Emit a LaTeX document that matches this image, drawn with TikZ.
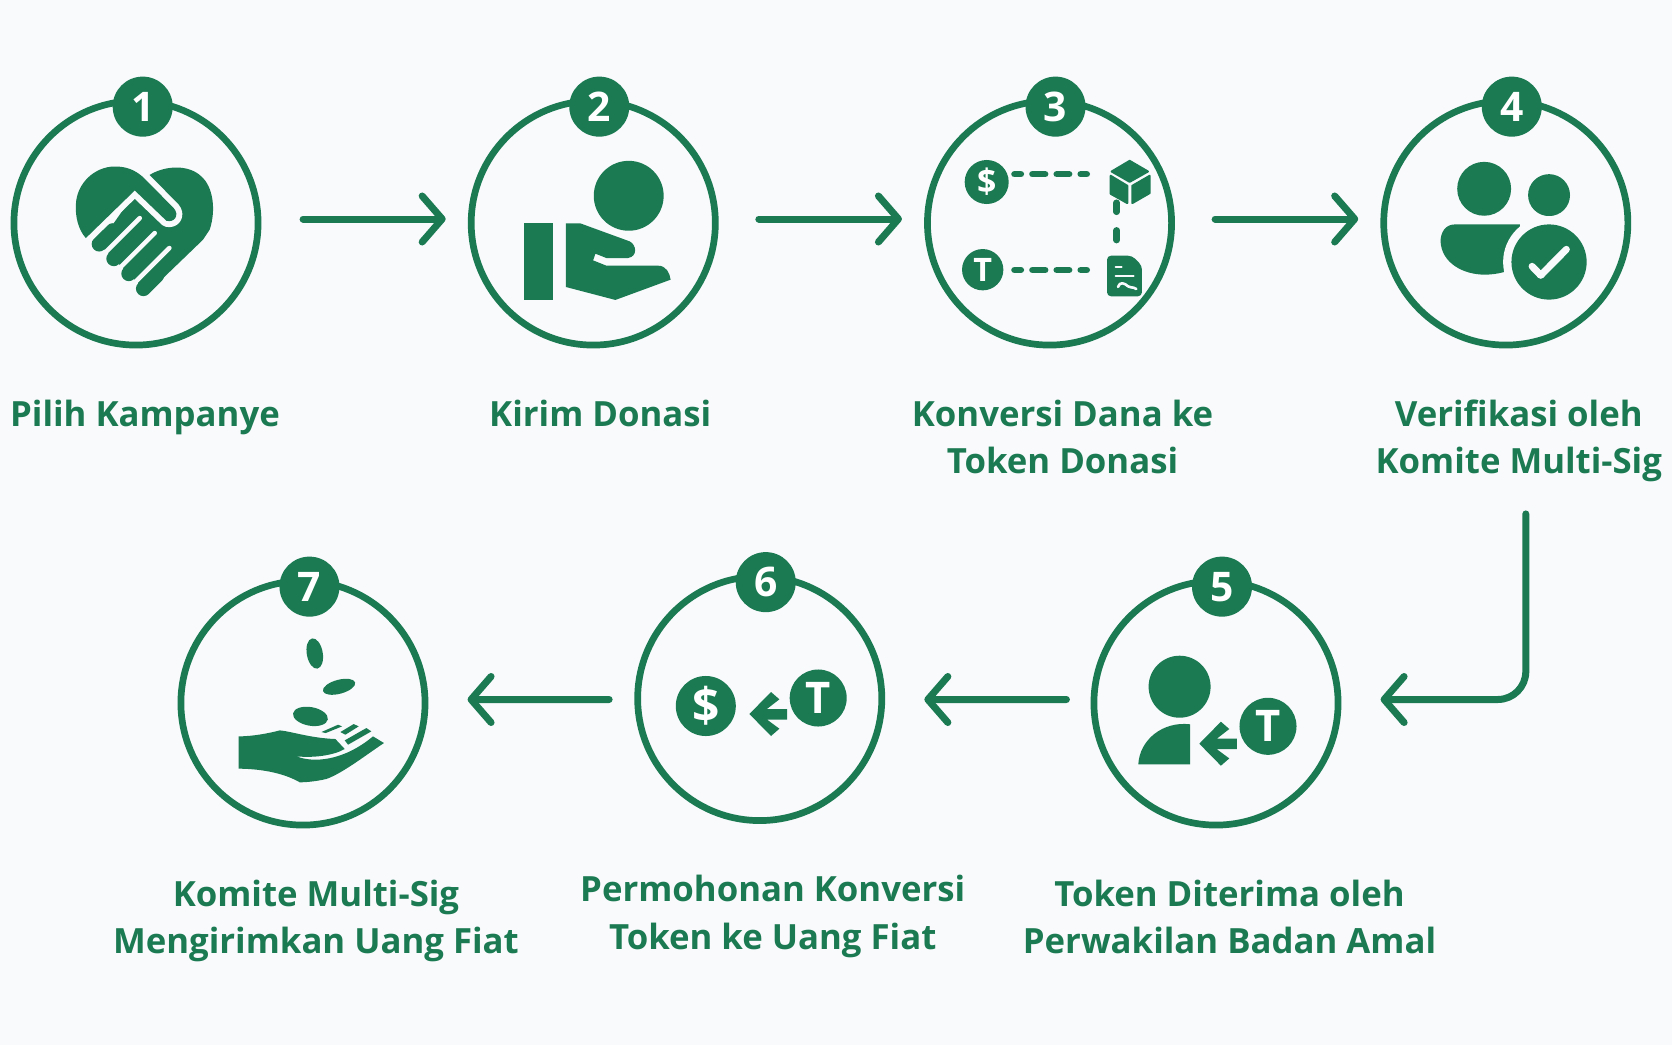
\documentclass[tikz,border=0pt]{standalone}
\usepackage{fontspec}
\setmainfont{Open Sans}
\usepackage{xcolor}
\usetikzlibrary{arrows.meta,positioning}
\definecolor{brandgreen}{RGB}{27,122,82}
\definecolor{paper}{RGB}{248,250,252}

\begin{document}
\begin{tikzpicture}[x=.01cm, y=-.01cm,
ring/.style={circle, draw=brandgreen, line width=.067cm, minimum size=2.44cm, inner sep=0pt, outer sep=0pt},
badge/.style={circle, fill=brandgreen, text=white, minimum size=.6cm, inner sep=0pt, font=\fontsize{11.6pt}{12pt}\bfseries},
coin/.style={circle, fill=brandgreen, text=white, inner sep=0pt},
steptext/.style={align=center, text=brandgreen, inner sep=0pt, font=\fontsize{9.88pt}{13.5pt}\selectfont\bfseries},
flow/.style={-{Straight Barb[length=.2cm,width=.46cm,round]}, draw=brandgreen, line width=.07cm, line cap=round, line join=round},
ink/.style={fill=brandgreen},
gap/.style={draw=paper, line cap=round, line join=round}
]
\fill[paper] (0,0) rectangle (1672,1045);

% rings, top row then bottom row
\node[ring] (s1) at (136,223) {};
\node[ring, right=2.13cm of s1] (s2) {};
\node[ring, right=2.12cm of s2] (s3) {};
\node[ring, right=2.12cm of s3] (s4) {};
\node[ring] (s5) at (1216,703) {};
\node[ring, left=2.12cm of s5, yshift=.045cm] (s6) {};
\node[ring, left=2.125cm of s6, yshift=-.045cm] (s7) {};

% numbers
\node[badge] (n1) at ([xshift=.067cm,yshift=-.057cm]s1.north) {1};
\node[badge] (n2) at ([xshift=.06cm,yshift=-.057cm]s2.north) {2};
\node[badge] (n3) at ([xshift=.06cm,yshift=-.057cm]s3.north) {3};
\node[badge] (n4) at ([xshift=.06cm,yshift=-.057cm]s4.north) {4};
\node[badge] (n5) at ([xshift=.06cm,yshift=-.057cm]s5.north) {5};
\node[badge] (n6) at ([xshift=.06cm,yshift=-.057cm]s6.north) {6};
\node[badge] (n7) at ([xshift=.065cm,yshift=-.057cm]s7.north) {7};

% captions
\node[steptext, below=.54cm of s1, xshift=.09cm] (c1) {Pilih Kampanye};
\node[steptext, below=.54cm of s2, xshift=.07cm] (c2) {Kirim Donasi};
\node[steptext, below=.54cm of s3, xshift=.13cm] (c3) {Konversi Dana ke\\Token Donasi};
\node[steptext, below=.54cm of s4, xshift=.13cm] (c4) {Verifikasi oleh\\Komite Multi-Sig};
\node[steptext, below=.54cm of s5, xshift=.135cm] (c5) {Token Diterima oleh\\Perwakilan Badan Amal};
\node[steptext, below=.54cm of s6, xshift=.13cm] (c6) {Permohonan Konversi\\Token ke Uang Fiat};
\node[steptext, below=.54cm of s7, xshift=.13cm] (c7) {Komite Multi-Sig\\Mengirimkan Uang Fiat};

% arrows
\draw[flow, shorten <=.45cm, shorten >=.255cm] ([yshift=.04cm]s1.east) -- ([yshift=.04cm]s2.west);
\draw[flow, shorten <=.435cm, shorten >=.255cm] ([yshift=.04cm]s2.east) -- ([yshift=.04cm]s3.west);
\draw[flow, shorten <=.435cm, shorten >=.255cm] ([yshift=.04cm]s3.east) -- ([yshift=.04cm]s4.west);
\draw[flow, rounded corners=.28cm, shorten <=.31cm, shorten >=.425cm] ([xshift=.07cm]c4.south) |- ([yshift=.035cm]s5.east);
\draw[flow, shorten <=.275cm, shorten >=.425cm] ([yshift=.035cm]s5.west) -- ([yshift=-.01cm]s6.east);
\draw[flow, shorten <=.285cm, shorten >=.425cm] ([yshift=-.01cm]s6.west) -- ([yshift=.035cm]s7.east);

% icon 1, handshake heart
\begin{scope}[shift={(0,60)}, x=.003333cm, y=-.003333cm]
\fill[ink] (450,345) .. controls (500,315) and (570,315) .. (605,350) .. controls (640,380) and (650,450) .. (630,510) -- (610,540) -- (447,697) -- (431,687) -- (298,553) -- (405,400) -- cycle;
\foreach \tx/\ty in {298/553, 342/597, 387/642, 431/687}
  \draw[brandgreen, line width=.15cm, line cap=round] (\tx,\ty) -- (\tx+40,\ty-40);
\draw[gap, line width=.045cm] (300,595) -- (420,475);
\draw[gap, line width=.045cm] (345,640) -- (465,520);
\draw[gap, line width=.045cm] (389,685) -- (509,565);
\draw[gap, line width=.12cm] (430,352) -- (522,445) .. controls (540,465) and (525,490) .. (500,483) -- (405,392) -- (258,535);
\fill[ink] (258,535) .. controls (235,510) and (226,470) .. (228,435) .. controls (230,370) and (285,320) .. (345,320) .. controls (380,320) and (405,330) .. (430,352) -- (522,445) .. controls (540,465) and (525,490) .. (500,483) -- (405,392) -- cycle;
\end{scope}

% icon 2, giving hand
\begin{scope}[shift={(450,60)}, x=.003333cm, y=-.003333cm]
\fill[ink] (537,408) circle[radius=105];
\fill[ink] (222,491) rectangle (308,721);
\fill[ink] (348,491) -- (392,491) -- (540,545) .. controls (560,555) and (565,590) .. (535,595) -- (470,595) -- (437,582) -- (430,602) -- (470,618) -- (625,618) .. controls (650,618) and (660,640) .. (663,660) -- (497,721) -- (348,682) -- cycle;
\end{scope}

% icon 3, coins to cube and contract
\node[coin, minimum size=.44cm, font=\fontsize{9.6pt}{10pt}\bfseries] (dollar3) at (986.7,182) {\$};
\node[coin, minimum size=.413cm, font=\fontsize{9.2pt}{10pt}\bfseries] (token3) at (982.7,269.7) {T};
\begin{scope}[shift={(910,60)}, x=.003333cm, y=-.003333cm]
\foreach \ya in {343,631}
  \foreach \xa/\xb in {314/333, 368/406, 441/478, 513/531}
    \draw[brandgreen, line width=.066cm, line cap=round] (\xa,\ya) -- (\xb,\ya);
\foreach \ya/\yb in {429/456, 512/541}
  \draw[brandgreen, line width=.066cm, line cap=round] (621,\ya) -- (621,\yb);
\filldraw[ink, draw=brandgreen, line width=.02cm, line join=round] (660,303) -- (715,335) -- (660,366) -- (606,335) -- cycle;
\filldraw[ink, draw=brandgreen, line width=.02cm, line join=round] (603,348) -- (653,378) -- (653,430) -- (603,402) -- cycle;
\filldraw[ink, draw=brandgreen, line width=.02cm, line join=round] (668,378) -- (720,348) -- (720,400) -- (668,430) -- cycle;
\fill[ink, rounded corners=.04cm] (592,588) -- (667,588) -- (697,618) -- (697,710) -- (592,710) -- cycle;
\draw[gap, line width=.02cm] (618,622) -- (636,622);
\draw[gap, line width=.02cm] (618,648) -- (672,648);
\draw[gap, line width=.026cm] (625,682) .. controls (630,665) and (645,670) .. (655,680) .. controls (660,686) and (668,680) .. (680,688);
\end{scope}

% icon 4, people with check
\begin{scope}[shift={(1370,60)}, x=.003333cm, y=-.003333cm]
\fill[ink] (343,387) circle[radius=81];
\fill[ink] (538,406) circle[radius=63];
\fill[ink] (255,494) -- (450,494) -- (450,620) -- (403,637) .. controls (385,642) and (365,645) .. (345,645) .. controls (280,645) and (215,610) .. (212,545) .. controls (212,520) and (225,494) .. (255,494) -- cycle;
\fill[paper] (538,607) circle[radius=138];
\fill[ink] (538,607) circle[radius=113];
\draw[gap, line width=.07cm] (487,620) -- (513,647) -- (590,569);
\end{scope}

% icon 5, person taking token
\fill[ink] (1179.6,686.7) circle[radius=31];
\fill[ink] (1138.3,764.3) .. controls (1139.6,740) and (1162.5,721) .. (1190.1,724.3) -- (1190.1,764.3) -- cycle;
\node[coin, minimum size=.57cm, font=\fontsize{12.4pt}{13pt}\bfseries] (token5) at (1268,726.3) {T};

% icon 6, token to dollar
\node[coin, minimum size=.6cm, font=\fontsize{13.6pt}{14pt}\bfseries] (dollar6) at (705.8,706) {\$};
\node[coin, minimum size=.57cm, font=\fontsize{12.4pt}{13pt}\bfseries] (token6) at (818.2,698) {T};

% small arrows of icons 5 and 6
\foreach \ax/\ay in {1199.3/743.7, 749.4/714}
  \fill[ink, shift={(\ax,\ay)}] (0,0) -- (21.6,-22) -- (30,-14.7) -- (17.5,-5) -- (37.6,-5) -- (37.6,5.5) -- (17.5,5.5) -- (30,14.7) -- (21.6,22) -- cycle;

% icon 7, coins over open hand
\begin{scope}[shift={(170,550)}, x=.003333cm, y=-.003333cm]
\fill[ink] (435,311) ellipse[x radius=24, y radius=46, rotate=10];
\fill[ink] (508,411) ellipse[x radius=50, y radius=21, rotate=15];
\fill[ink] (422,500) ellipse[x radius=53, y radius=28, rotate=-10];
\fill[ink] (206,560) .. controls (250,560) and (300,550) .. (330,542) .. controls (365,545) and (420,565) .. (497,568) -- (525,598) .. controls (490,618) and (430,625) .. (380,620) .. controls (430,640) and (520,635) .. (610,560) -- (643,580) .. controls (590,615) and (520,670) .. (470,688) .. controls (440,695) and (410,698) .. (390,698) .. controls (350,675) and (290,658) .. (206,657) -- cycle;
\fill[ink] (455,547) -- (505,525) -- (517,530) -- (468,550) -- cycle;
\fill[ink] (512,547) -- (552,523) -- (567,530) -- (527,555) -- cycle;
\fill[ink] (525,572) -- (590,535) -- (605,545) -- (535,585) -- cycle;
\end{scope}
\end{tikzpicture}
\end{document}
